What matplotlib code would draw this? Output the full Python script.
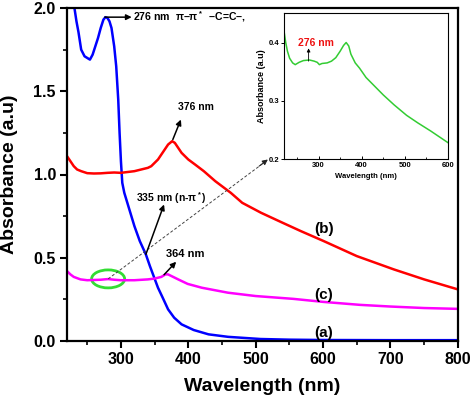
import matplotlib
matplotlib.use("Agg")
import matplotlib.pyplot as plt
from matplotlib.patches import Ellipse
from matplotlib.ticker import MultipleLocator

plt.rcParams['font.family'] = ['Liberation Sans', 'DejaVu Sans']
plt.rcParams['font.weight'] = 'bold'
plt.rcParams['mathtext.fontset'] = 'custom'
plt.rcParams['mathtext.rm'] = 'Liberation Sans:bold'
plt.rcParams['mathtext.it'] = 'Liberation Sans:bold'
plt.rcParams['mathtext.bf'] = 'Liberation Sans:bold'

# (a) blue
wl_a = [227, 231, 234, 237, 241, 246, 250, 254, 258, 262, 266, 270, 274, 277, 280, 283, 286,
        290, 293, 296, 298, 300, 302, 305, 308, 314, 320, 328, 337, 343, 349, 355, 362, 370,
        379, 390, 408, 430, 459, 507, 550, 600, 700, 800]
abs_a = [2.12, 2.0, 1.92, 1.855, 1.75, 1.71, 1.70, 1.69, 1.72, 1.77, 1.82, 1.88, 1.93, 1.945,
         1.94, 1.92, 1.88, 1.77, 1.65, 1.45, 1.25, 1.08, 0.95, 0.89, 0.85, 0.77, 0.69, 0.60,
         0.52, 0.45, 0.385, 0.32, 0.26, 0.19, 0.14, 0.10, 0.066, 0.04, 0.025, 0.012, 0.008,
         0.006, 0.005, 0.005]

# (b) red
wl_b = [220, 225, 230, 235, 241, 250, 260, 270, 280, 290, 300, 310, 320, 330, 340, 345, 350,
        355, 360, 365, 370, 376, 380, 385, 390, 400, 410, 423, 440, 463, 480, 508, 540, 567,
        601, 650, 705, 750, 800]
abs_b = [1.11, 1.08, 1.05, 1.03, 1.02, 1.008, 1.006, 1.007, 1.01, 1.012, 1.01, 1.015, 1.02,
         1.03, 1.04, 1.05, 1.07, 1.09, 1.12, 1.15, 1.18, 1.20, 1.19, 1.16, 1.13, 1.09, 1.06,
         1.02, 0.96, 0.89, 0.83, 0.77, 0.71, 0.66, 0.60, 0.51, 0.43, 0.37, 0.31]

# (c) magenta
wl_c = [220, 225, 230, 240, 250, 270, 281, 290, 300, 320, 340, 350, 360, 366, 370, 375, 385,
        399, 420, 459, 500, 556, 600, 655, 700, 750, 800]
abs_c = [0.42, 0.40, 0.385, 0.37, 0.365, 0.368, 0.372, 0.368, 0.365, 0.365, 0.37, 0.375,
         0.385, 0.40, 0.40, 0.39, 0.37, 0.343, 0.32, 0.29, 0.27, 0.253, 0.235, 0.217, 0.207,
         0.198, 0.193]

# inset green
wl_i = [220, 224, 228, 233, 240, 246, 255, 265, 279, 290, 297, 302, 308, 320, 330, 340, 350,
        358, 364, 370, 375, 385, 395, 410, 426, 450, 475, 504, 530, 560, 580, 600]
abs_i = [0.42, 0.40, 0.385, 0.373, 0.365, 0.362, 0.366, 0.369, 0.370, 0.368, 0.366, 0.362,
         0.364, 0.365, 0.368, 0.374, 0.385, 0.395, 0.40, 0.394, 0.38, 0.365, 0.356, 0.34,
         0.328, 0.31, 0.293, 0.275, 0.262, 0.248, 0.238, 0.228]

x_ticks = [300, 400, 500, 600, 700, 800]
y_ticks = [0.0, 0.5, 1.0, 1.5, 2.0]
inset_x_ticks = [300, 400, 500, 600]
inset_y_ticks = [0.2, 0.3, 0.4]

fig = plt.figure(figsize=(4.72, 4.0), dpi=100)
ax = fig.add_axes([0.142, 0.1475, 0.828, 0.8325])

ax.plot(wl_a, abs_a, color='#0000ff', lw=1.8)
ax.plot(wl_b, abs_b, color='#ff0000', lw=1.8)
ax.plot(wl_c, abs_c, color='#ff00ff', lw=1.8)

ax.set_xlim(220, 800)
ax.set_ylim(0, 2.0)
ax.set_xticks(x_ticks)
ax.set_yticks(y_ticks)
ax.set_yticklabels(['%.1f' % v for v in y_ticks])
ax.xaxis.set_minor_locator(MultipleLocator(50))
ax.yaxis.set_minor_locator(MultipleLocator(0.25))
ax.tick_params(which='major', direction='out', length=5, width=1.5, labelsize=11.5, pad=3)
ax.tick_params(which='minor', direction='out', length=3, width=1.2)
ax.tick_params(top=False, right=False)
for s in ax.spines.values():
    s.set_linewidth(1.6)
for lbl in ax.get_xticklabels() + ax.get_yticklabels():
    lbl.set_fontweight('bold')

ax.set_xlabel('Wavelength (nm)', fontsize=14, fontweight='bold')
ax.set_ylabel('Absorbance (a.u)', fontsize=14, fontweight='bold')
ax.xaxis.set_label_coords(0.5, -0.112)
ax.yaxis.set_label_coords(-0.125, 0.5)

arrow = dict(arrowstyle='-|>', color='black', lw=1.1, mutation_scale=8, shrinkA=0, shrinkB=0)
ax.annotate('', xy=(316, 1.945), xytext=(276, 1.945), arrowprops=arrow)
ax.text(318, 1.946, '276 nm  π\u2013π$^*$  \u2013C=C\u2013,', fontsize=7.6, fontweight='bold',
        va='center', ha='left')
ax.annotate('', xy=(389, 1.33), xytext=(377, 1.21), arrowprops=arrow)
ax.text(384.7, 1.404, '376 nm', fontsize=7.5, fontweight='bold', va='center', ha='left')
ax.annotate('', xy=(364, 0.82), xytext=(337, 0.52), arrowprops=arrow)
ax.text(322.6, 0.86, '335 nm (n-π$^*$)', fontsize=7.5, fontweight='bold', va='center', ha='left')
ax.annotate('', xy=(382, 0.476), xytext=(364, 0.398), arrowprops=arrow)
ax.text(367, 0.524, '364 nm', fontsize=8, fontweight='bold', va='center', ha='left')

ax.text(601, 0.67, '(b)', fontsize=11, fontweight='bold', ha='center', va='center')
ax.text(601, 0.277, '(c)', fontsize=11, fontweight='bold', ha='center', va='center')
ax.text(601, 0.048, '(a)', fontsize=11, fontweight='bold', ha='center', va='center')

ax.add_patch(Ellipse((281, 0.373), 49, 0.108, fill=False, edgecolor='#33dd33', lw=2))
ax.plot([281, 512], [0.373, 1.07], color='#444444', lw=0.7, ls=(0, (3, 2)))
ax.annotate('', xy=(518, 1.09), xytext=(505, 1.05),
            arrowprops=dict(arrowstyle='-|>', color='#222222', lw=0.7, mutation_scale=8,
                            shrinkA=0, shrinkB=0))

# inset
ai = fig.add_axes([0.6017, 0.6025, 0.3475, 0.364])
ai.plot(wl_i, abs_i, color='#33cc33', lw=1.1)
ai.set_xlim(220, 600)
ai.set_ylim(0.2, 0.45)
ai.set_xticks(inset_x_ticks)
ai.set_yticks(inset_y_ticks)
ai.set_yticklabels(['%.1f' % v for v in inset_y_ticks])
ai.xaxis.set_minor_locator(MultipleLocator(50))
ai.tick_params(axis='x', which='major', direction='in', length=2.5, width=0.7, labelsize=5.5, pad=2)
ai.tick_params(axis='x', which='minor', direction='in', length=1.5, width=0.6)
ai.tick_params(axis='y', which='major', direction='out', length=2.5, width=0.7, labelsize=5.5, pad=1)
for s in ai.spines.values():
    s.set_linewidth(0.8)
for lbl in ai.get_xticklabels() + ai.get_yticklabels():
    lbl.set_fontweight('bold')
ai.set_xlabel('Wavelength (nm)', fontsize=5.5, fontweight='bold', labelpad=3)
ai.set_ylabel('Absorbance (a.u)', fontsize=6.5, fontweight='bold', labelpad=2)
ai.annotate('', xy=(277, 0.39), xytext=(277, 0.368),
            arrowprops=dict(arrowstyle='-|>', color='black', lw=0.6, mutation_scale=5,
                            shrinkA=0, shrinkB=0))
ai.text(295, 0.399, '276 nm', color='#ee1111', fontsize=7.5, fontweight='bold',
        ha='center', va='center')

fig.savefig('out.png', dpi=100)
